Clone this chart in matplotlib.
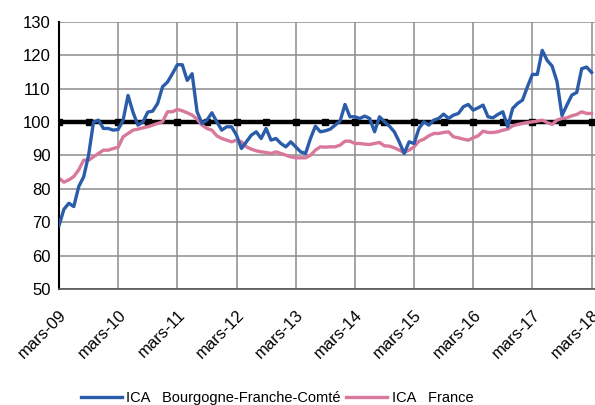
import matplotlib
matplotlib.use('Agg')

import numpy as np
from matplotlib import pyplot as plt

plt.rcParams['font.family'] = ['Liberation Sans', 'DejaVu Sans']

# monthly index values, mars-09 .. mars-18
bfc = [69, 73.9, 75.7, 74.7, 80.7, 83.6, 90.1, 100, 100.6, 98.1, 98.1, 97.6,
       97.8, 100.6, 108, 103, 99.1, 100, 103, 103.3, 105.6, 110.6, 112, 114.5,
       117.2, 117.2, 112.5, 114.5, 103.1, 99.6, 100.6, 102.8, 100.1, 97.6, 98.6, 98.6,
       96.1, 92.1, 94.1, 96.1, 97.1, 95.1, 98.1, 94.6, 95.1, 93.6, 92.6, 94.1,
       92.6, 91.1, 90.6, 95.1, 98.8, 97.1, 97.4, 97.9, 99.1, 100.3, 105.3, 101.6,
       101.6, 101.1, 101.8, 101.1, 97.1, 101.6, 100.1, 98.8, 97.1, 94.1, 90.6, 94.1,
       93.6, 98.1, 100.1, 99.1, 100.6, 101.1, 102.4, 101.1, 102.1, 102.6, 104.6, 105.3,
       103.6, 104.3, 105.1, 101.6, 101.3, 102.3, 103.1, 98.6, 104.1, 105.6, 106.6, 110.6,
       114.3, 114.3, 121.5, 118.5, 116.8, 112.1, 102, 105.1, 108.1, 108.9, 116, 116.5,
       114.9]
france = [83.2, 82, 82.7, 83.7, 85.7, 88.6, 88.6, 89.6, 90.6, 91.6, 91.6, 92.1,
          92.5, 95.6, 96.6, 97.6, 97.9, 98.3, 98.6, 99.1, 99.6, 100.1, 103.1, 103.1,
          103.8, 103.4, 102.8, 102.1, 100.9, 99.1, 98.1, 97.6, 95.9, 95.1, 94.6, 94.1,
          94.6, 94.1, 92.6, 91.9, 91.4, 91.1, 90.9, 90.6, 91.1, 90.6, 90.1, 89.6,
          89.3, 89.3, 89.3, 90.1, 91.6, 92.6, 92.5, 92.6, 92.6, 93.1, 94.3, 94.3,
          93.6, 93.6, 93.4, 93.3, 93.6, 93.9, 92.9, 92.8, 92.3, 91.6, 90.9, 91.6,
          92.6, 94.3, 94.9, 95.9, 96.6, 96.6, 96.9, 97.1, 95.6, 95.3, 94.9, 94.6,
          95.3, 95.9, 97.3, 96.9, 96.9, 97.1, 97.6, 97.9, 98.9, 99.3, 99.6, 99.9,
          100.1, 100.3, 100.6, 99.9, 99.3, 100.6, 101.1, 101.3, 101.9, 102.3, 103.1, 102.6,
          102.6]
years = ['09', '10', '11', '12', '13', '14', '15', '16', '17', '18']
tick_labels = ['mars-' + y for y in years]

months = np.arange(len(bfc))

fig = plt.figure(figsize=(5.95, 4.05), dpi=100)
ax = fig.add_axes([59 / 595, 116 / 405, 536 / 595, 267 / 405])

ax.plot(months, np.full(len(months), 100), color='black', lw=3.2,
        marker='s', markersize=4.5, markevery=6, zorder=2)
l1, = ax.plot(months, bfc, color='#2a5caa', lw=2.4, zorder=3)
l2, = ax.plot(months, france, color='#d8789c', lw=2.4, zorder=2.5)

ax.set_xlim(0, 108.7)
ax.set_ylim(50, 130)
ax.set_yticks(range(50, 131, 10))
ax.set_xticks(np.arange(0, 109, 12))
ax.set_xticklabels(tick_labels, rotation=45, ha='right', rotation_mode='anchor')
ax.tick_params(axis='both', labelsize=12, length=0, pad=6)
ax.tick_params(axis='x', pad=13)
ax.grid(True, color='#8c8c8c', lw=1.1)
ax.set_axisbelow(True)
for s in ('top', 'right'):
    ax.spines[s].set_visible(False)
ax.spines['left'].set_color('black')
ax.spines['left'].set_linewidth(1.5)
ax.spines['bottom'].set_color('#555555')
ax.spines['bottom'].set_linewidth(1.2)

fig.legend([l1, l2], ['ICA   Bourgogne-Franche-Comté', 'ICA   France'],
           loc='center', bbox_to_anchor=(277 / 595, 1 - 398 / 405), ncol=2,
           frameon=False, fontsize=10.5, handlelength=2.8, handletextpad=0.3,
           columnspacing=0.4)

fig.savefig('out.png', dpi=100)
